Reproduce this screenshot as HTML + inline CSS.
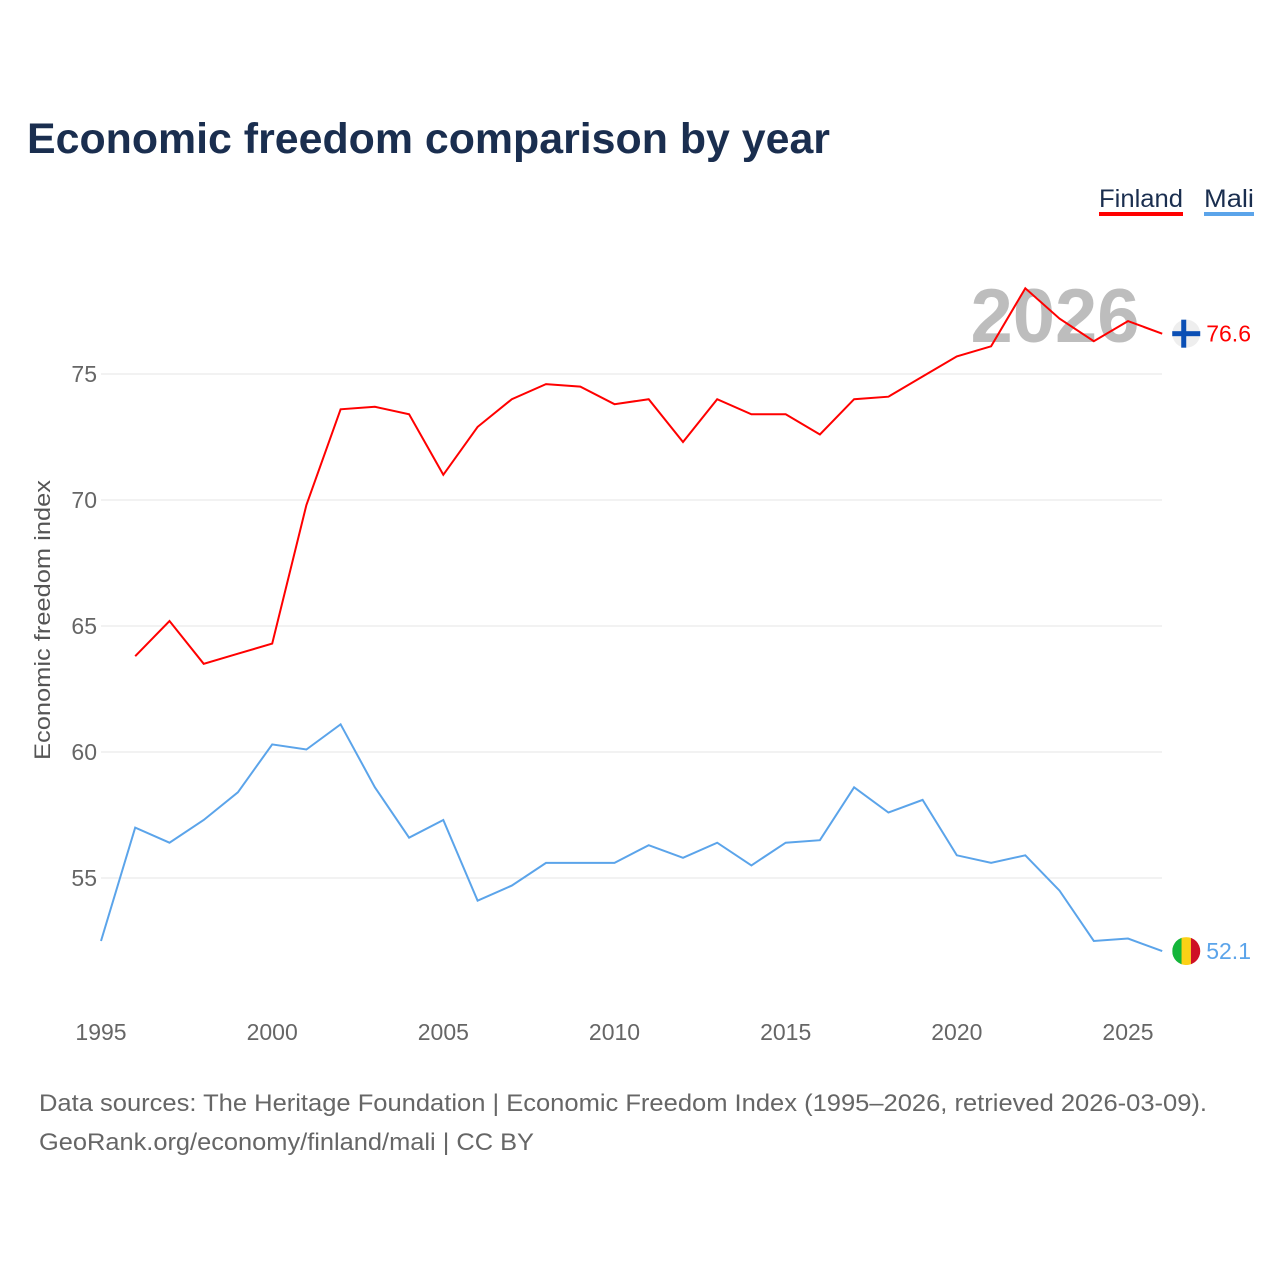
<!DOCTYPE html>
<html><head><meta charset="utf-8"><style>
body{margin:0;background:#fff;width:1280px;height:1280px;overflow:hidden;font-family:"Liberation Sans",sans-serif}
</style></head><body>
<svg width="1280" height="1280">
<text x="27" y="153" font-size="43" font-weight="bold" fill="#1a2e4f" textLength="803" lengthAdjust="spacingAndGlyphs">Economic freedom comparison by year</text>
<g>
<g><text x="1099" y="207" font-size="25" fill="#1a2e4f" textLength="84" lengthAdjust="spacingAndGlyphs">Finland</text><rect x="1099" y="212" width="84" height="4" fill="#ff0000"/></g>
<g><text x="1204" y="207" font-size="25" fill="#1a2e4f" textLength="50" lengthAdjust="spacingAndGlyphs">Mali</text><rect x="1204" y="212" width="50" height="4" fill="#5ba4ea"/></g>
</g>
<text x="1055" y="342" font-size="76" font-weight="bold" fill="#bdbdbd" text-anchor="middle">2026</text>
<g id="grid"></g>
<text transform="translate(50,620) rotate(-90)" font-size="22" fill="#555" text-anchor="middle" textLength="280" lengthAdjust="spacingAndGlyphs">Economic freedom index</text>
<g id="series"></g>
<text x="39" y="1111" font-size="24" fill="#666" textLength="1168" lengthAdjust="spacingAndGlyphs">Data sources: The Heritage Foundation | Economic Freedom Index (1995–2026, retrieved 2026-03-09).</text>
<text x="39" y="1150" font-size="24" fill="#666" textLength="495" lengthAdjust="spacingAndGlyphs">GeoRank.org/economy/finland/mali | CC BY</text>
</svg>
<script>
const years=[];for(let y=1995;y<=2026;y++)years.push(y);
const finland=[null,63.8,65.2,63.5,63.9,64.3,69.8,73.6,73.7,73.4,71.0,72.9,74.0,74.6,74.5,73.8,74.0,72.3,74.0,73.4,73.4,72.6,74.0,74.1,74.9,75.7,76.1,78.4,77.2,76.3,77.1,76.6];
const mali=[52.5,57.0,56.4,57.3,58.4,60.3,60.1,61.1,58.6,56.6,57.3,54.1,54.7,55.6,55.6,55.6,56.3,55.8,56.4,55.5,56.4,56.5,58.6,57.6,58.1,55.9,55.6,55.9,54.5,52.5,52.6,52.1];
const yTicks=[55,60,65,70,75];
const xTicks=[1995,2000,2005,2010,2015,2020,2025];
const NS="http://www.w3.org/2000/svg";
const xs=y=>101+(y-1995)*(1027/30);
const ys=v=>374+(75-v)*25.2;
const grid=document.getElementById('grid'),ser=document.getElementById('series');
function mk(tag,attrs,parent){const e=document.createElementNS(NS,tag);for(const k in attrs)e.setAttribute(k,attrs[k]);parent.appendChild(e);return e;}
yTicks.forEach(v=>{
 const l=mk('line',{x1:101,x2:1162,y1:ys(v),y2:ys(v),stroke:'#e6e6e6','stroke-width':1},grid);
 
 
 const t=mk('text',{x:97,y:ys(v)+8,'font-size':23,fill:'#666','text-anchor':'end'},grid);t.textContent=v;
 
 
});
xTicks.forEach(v=>{
 const t=mk('text',{x:xs(v),y:1040,'font-size':23,fill:'#666','text-anchor':'middle'},grid);t.textContent=v;
 
 
});
function line(data,color,name){
 let d='';data.forEach((v,i)=>{if(v==null)return;d+=(d?'L':'M')+xs(years[i]).toFixed(1)+','+ys(v).toFixed(1);});
 const p=mk('path',{d:d,fill:'none',stroke:color,'stroke-width':2},ser);
 
 
 const last=data[data.length-1];
 const lx=xs(2026)+24,ly=ys(last);
 const t=mk('text',{x:lx+20,y:ly+8,'font-size':23,fill:color},ser);t.textContent=last.toFixed(1);
 
 
 return [lx,ly];
}
const [fx,fy]=line(finland,'#ff0000','finland');
const [mx,my]=line(mali,'#5ba4ea','mali');
const fg=mk('g',{},ser);


mk('circle',{cx:fx,cy:fy,r:14,fill:'#eeeeee'},fg);
mk('rect',{x:fx-14,y:fy-2.5,width:28,height:5,fill:'#0a4fb5'},fg);
mk('rect',{x:fx-5,y:fy-14,width:5,height:28,fill:'#0a4fb5'},fg);
const mg=mk('g',{},ser);


mk('clipPath',{id:'mc'},mg).appendChild(document.createElementNS(NS,'circle'));
const cc=mg.querySelector('clipPath circle');cc.setAttribute('cx',mx);cc.setAttribute('cy',my);cc.setAttribute('r',14);
const gg=mk('g',{'clip-path':'url(#mc)'},mg);
mk('rect',{x:mx-14,y:my-14,width:10,height:28,fill:'#14b53a'},gg);
mk('rect',{x:mx-4.7,y:my-14,width:9.4,height:28,fill:'#fcd116'},gg);
mk('rect',{x:mx+4.7,y:my-14,width:10,height:28,fill:'#ce1126'},gg);
</script>
</body></html>
